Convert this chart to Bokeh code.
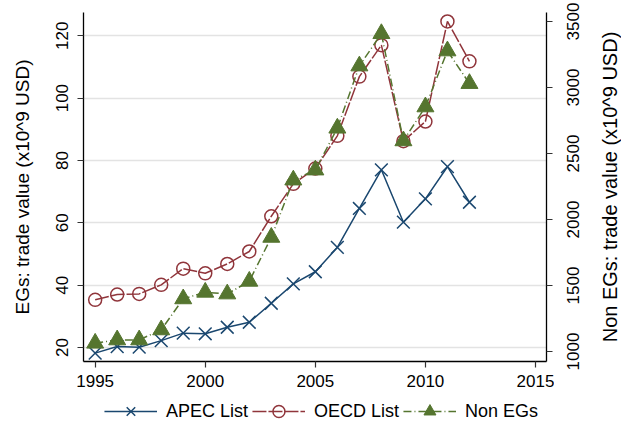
from bokeh.plotting import figure
from bokeh.models import Range1d, LinearAxis, FixedTicker, Legend, LegendItem
from bokeh.layouts import row, column
from bokeh.embed import file_html
from bokeh.resources import INLINE

years = list(range(1995, 2013))
apec = [18.2, 20.3, 20.1, 22.2, 24.6, 24.4, 26.5, 28.1, 34.2, 40.4, 44.3, 52.1, 64.6, 77.0, 60.2, 67.7, 78.0, 66.6]
oecd = [35.3, 37.0, 37.2, 40.1, 45.3, 43.8, 46.8, 50.8, 62.1, 72.5, 77.4, 87.9, 106.9, 117.0, 86.2, 92.5, 124.6, 111.8]
non_egs = [1063, 1088, 1088, 1164, 1399, 1449, 1436, 1532, 1865, 2299, 2375, 2692, 3163, 3408, 2596, 2853, 3277, 3030]

x_ticks = [1995, 2000, 2005, 2010, 2015]
left_ticks = [20, 40, 60, 80, 100, 120]
right_ticks = [1000, 1500, 2000, 2500, 3000, 3500]

series_names = ["APEC List", "OECD List", "Non EGs"]
left_title = "EGs: trade value (x10^9 USD)"
right_title = "Non EGs: trade value (x10^9 USD)"

NAVY = "#1a476f"
MAROON = "#90353b"
GREEN = "#55752f"
FONT = "Liberation Sans"
H = 392
TOP = 12
BOTTOM = 31

right_start, right_end = 924.3, 3568.0

p = figure(width=554, height=H, output_backend="svg", toolbar_location=None,
           x_range=Range1d(1994.47, 2015.5), y_range=Range1d(15.51, 127.47),
           min_border_left=83, min_border_right=8, min_border_top=TOP, min_border_bottom=BOTTOM)
p.extra_y_ranges = {"right": Range1d(right_start, right_end)}
p.outline_line_color = None
p.xgrid.visible = False
p.ygrid.grid_line_color = "#e3e3e3"
p.ygrid.grid_line_width = 1.5


def style_axis(ax, ticks):
    ax.ticker = FixedTicker(ticks=ticks)
    ax.axis_line_color = "black"
    ax.axis_line_width = 1.3
    ax.major_tick_line_color = "#333333"
    ax.major_tick_line_width = 1.2
    ax.major_tick_out = 6
    ax.major_tick_in = 0
    ax.minor_tick_line_color = None
    ax.major_label_text_font = FONT
    ax.major_label_text_font_size = "17px"
    ax.major_label_text_color = "black"
    ax.axis_label_text_font = FONT
    ax.axis_label_text_font_size = "19px"
    ax.axis_label_text_font_style = "normal"
    ax.axis_label_text_color = "black"


def hide_labels(ax):
    ax.major_label_text_font_size = "1px"
    ax.major_label_text_alpha = 0
    ax.major_label_standoff = 0


xa = p.xaxis[0]
style_axis(xa, x_ticks)
xa.major_label_standoff = 7

ya = p.yaxis[0]
style_axis(ya, left_ticks)
ya.major_label_orientation = "vertical"
ya.major_label_standoff = 9
ya.axis_label = left_title
ya.axis_label_standoff = 21

# right axis of the main plot: line and tick marks only
ra = LinearAxis(y_range_name="right")
style_axis(ra, right_ticks)
hide_labels(ra)
p.add_layout(ra, "right")


def draw_series(fig, right_name=None):
    kw = {} if right_name is None else {"y_range_name": right_name}
    r1 = fig.line(years, apec, line_color=NAVY, line_width=1.5)
    m1 = fig.scatter(years, apec, marker="x", size=18, line_color=NAVY, line_width=1.5)
    r2 = fig.line(years, oecd, line_color=MAROON, line_width=1.5, line_dash="14 2")
    m2 = fig.scatter(years, oecd, marker="circle", size=13, line_color=MAROON,
                     line_width=1.5, fill_alpha=0)
    r3 = fig.line(years, non_egs, line_color=GREEN, line_width=1.5,
                  line_dash="8 3 1 3", **kw)
    m3 = fig.scatter(years, non_egs, marker="triangle", size=17,
                     line_color=GREEN, fill_color=GREEN, **kw)
    return [(r1, m1), (r2, m2), (r3, m3)]


draw_series(p, "right")


def side_fig(width, border_left):
    f = figure(width=width, height=H, output_backend="svg", toolbar_location=None,
               x_range=Range1d(0, 1), y_range=Range1d(right_start, right_end),
               min_border_left=border_left, min_border_right=0,
               min_border_top=TOP, min_border_bottom=BOTTOM)
    f.outline_line_color = None
    f.grid.visible = False
    f.xaxis.visible = False
    ax = f.yaxis[0]
    style_axis(ax, right_ticks)
    ax.axis_line_color = None
    ax.major_tick_line_color = None
    ax.major_tick_out = 0
    return f, ax


# tick labels of the right axis (reading upward, like the reference)
fa, aa = side_fig(29, 27)
aa.major_label_orientation = "vertical"
aa.major_label_standoff = 2

# title of the right axis
fb, ab = side_fig(38, 37)
hide_labels(ab)
ab.axis_label = right_title
ab.axis_label_text_font_size = "20px"
ab.axis_label_standoff = 0

# legend strip below the chart (its series lie outside its own view)
lf = figure(width=621, height=430 - H, output_backend="svg", toolbar_location=None,
            x_range=Range1d(0, 1), y_range=Range1d(0, 1),
            x_axis_location=None, y_axis_location=None,
            min_border_left=21, min_border_right=0, min_border_top=0, min_border_bottom=0)
lf.outline_line_color = None
lf.grid.visible = False
pairs = draw_series(lf)

legend = Legend(items=[LegendItem(label=name, renderers=list(pair))
                       for name, pair in zip(series_names, pairs)],
                orientation="horizontal", location="center")
legend.label_text_font = FONT
legend.label_text_font_size = "18px"
legend.label_text_color = "black"
legend.glyph_width = 53
legend.glyph_height = 30
legend.label_height = 20
legend.label_standoff = 9
legend.spacing = 4
legend.padding = 0
legend.margin = 0
legend.border_line_color = None
legend.background_fill_alpha = 0
lf.add_layout(legend, "center")

layout = column(row(p, fa, fb), lf)
open("out.html", "w").write(file_html(layout, INLINE))
